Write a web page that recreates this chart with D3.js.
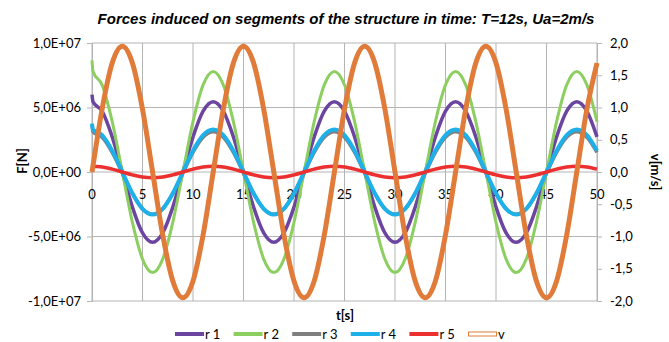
<!DOCTYPE html>
<html>
<head>
<meta charset="utf-8">
<script src="https://cdn.jsdelivr.net/npm/d3@7"></script>
<style>
  body { margin: 0; background: #fff; }
  text { font-family: Lato, "Liberation Sans", sans-serif; fill: #000; }
</style>
</head>
<body>
<svg id="svg" width="669" height="342"></svg>
<script>
// time samples [s]
var times = [0, 0.1,
  1, 2, 3, 4, 5, 6, 7, 8, 9, 10, 11, 12,
  13, 14, 15, 16, 17, 18, 19, 20, 21, 22, 23, 24,
  25, 26, 27, 28, 29, 30, 31, 32, 33, 34, 35, 36,
  37, 38, 39, 40, 41, 42, 43, 44, 45, 46, 47, 48,
  49, 50];

// forces in MN (x1e6 N)
var r1 = [6.00, 5.44,
  4.72, 2.72, 0.00, -2.72, -4.72, -5.45, -4.72, -2.72, 0.00, 2.72, 4.72, 5.45,
  4.72, 2.72, 0.00, -2.72, -4.72, -5.45, -4.72, -2.72, 0.00, 2.72, 4.72, 5.45,
  4.72, 2.72, 0.00, -2.72, -4.72, -5.45, -4.72, -2.72, 0.00, 2.72, 4.72, 5.45,
  4.72, 2.72, 0.00, -2.72, -4.72, -5.45, -4.72, -2.72, 0.00, 2.72, 4.72, 5.45,
  4.72, 2.72];
var r2 = [8.65, 7.79,
  6.75, 3.90, 0.00, -3.90, -6.75, -7.80, -6.75, -3.90, 0.00, 3.90, 6.75, 7.80,
  6.75, 3.90, 0.00, -3.90, -6.75, -7.80, -6.75, -3.90, 0.00, 3.90, 6.75, 7.80,
  6.75, 3.90, 0.00, -3.90, -6.75, -7.80, -6.75, -3.90, 0.00, 3.90, 6.75, 7.80,
  6.75, 3.90, 0.00, -3.90, -6.75, -7.80, -6.75, -3.90, 0.00, 3.90, 6.75, 7.80,
  6.75, 3.90];
var r3 = [3.62, 3.11,
  2.69, 1.52, -0.08, -1.68, -2.85, -3.28, -2.85, -1.68, -0.08, 1.52, 2.69, 3.12,
  2.69, 1.52, -0.08, -1.68, -2.85, -3.28, -2.85, -1.68, -0.08, 1.52, 2.69, 3.12,
  2.69, 1.52, -0.08, -1.68, -2.85, -3.28, -2.85, -1.68, -0.08, 1.52, 2.69, 3.12,
  2.69, 1.52, -0.08, -1.68, -2.85, -3.28, -2.85, -1.68, -0.08, 1.52, 2.69, 3.12,
  2.69, 1.52];
var r4 = [3.75, 3.29,
  2.86, 1.65, 0.00, -1.65, -2.86, -3.30, -2.86, -1.65, 0.00, 1.65, 2.86, 3.30,
  2.86, 1.65, 0.00, -1.65, -2.86, -3.30, -2.86, -1.65, 0.00, 1.65, 2.86, 3.30,
  2.86, 1.65, 0.00, -1.65, -2.86, -3.30, -2.86, -1.65, 0.00, 1.65, 2.86, 3.30,
  2.86, 1.65, 0.00, -1.65, -2.86, -3.30, -2.86, -1.65, 0.00, 1.65, 2.86, 3.30,
  2.86, 1.65];
var r5 = [0.46, 0.45,
  0.39, 0.22, 0.00, -0.22, -0.39, -0.45, -0.39, -0.22, 0.00, 0.22, 0.39, 0.45,
  0.39, 0.22, 0.00, -0.22, -0.39, -0.45, -0.39, -0.22, 0.00, 0.22, 0.39, 0.45,
  0.39, 0.22, 0.00, -0.22, -0.39, -0.45, -0.39, -0.22, 0.00, 0.22, 0.39, 0.45,
  0.39, 0.22, 0.00, -0.22, -0.39, -0.45, -0.39, -0.22, 0.00, 0.22, 0.39, 0.45,
  0.39, 0.22];
// velocity [m/s]
var v = [0.00, 0.10,
  0.975, 1.69, 1.95, 1.69, 0.975, 0.00, -0.975, -1.69, -1.95, -1.69, -0.975, 0.00,
  0.975, 1.69, 1.95, 1.69, 0.975, 0.00, -0.975, -1.69, -1.95, -1.69, -0.975, 0.00,
  0.975, 1.69, 1.95, 1.69, 0.975, 0.00, -0.975, -1.69, -1.95, -1.69, -0.975, 0.00,
  0.975, 1.69, 1.95, 1.69, 0.975, 0.00, -0.975, -1.69, -1.95, -1.69, -0.975, 0.00,
  0.975, 1.69];

var xTicks = [0, 5, 10, 15, 20, 25, 30, 35, 40, 45, 50];
var leftTicks = [-1e7, -5e6, 0, 5e6, 1e7];
var rightTicks = [-2, -1.5, -1, -0.5, 0, 0.5, 1, 1.5, 2];

var MN = 1e6;
var series = [
  {name: "r 1", values: r1, color: "#6b45a0", width: 3.5},
  {name: "r 2", values: r2, color: "#8ccf60", width: 3},
  {name: "r 3", values: r3, color: "#7f7f7f", width: 3.5},
  {name: "r 4", values: r4, color: "#1eb0e8", width: 4},
  {name: "r 5", values: r5, color: "#ec2f2f", width: 3.5}
];

var svg = d3.select("#svg");
var x = d3.scaleLinear().domain([0, 50]).range([92, 597]);
var yL = d3.scaleLinear().domain([-1e7, 1e7]).range([301, 43]);
var yR = d3.scaleLinear().domain([-2, 2]).range([301, 43]);
var gridColor = "#b4b4b4";

function sci(d) {
  if (d === 0) return "0,0E+00";
  var e = Math.floor(Math.log10(Math.abs(d)));
  var m = d / Math.pow(10, e);
  return m.toFixed(1).replace(".", ",") + "E" + (e < 0 ? "-" : "+") + String(Math.abs(e)).padStart(2, "0");
}

// grid
svg.append("g").selectAll("line").data(leftTicks).enter().append("line")
  .attr("x1", x(0)).attr("x2", x(50))
  .attr("y1", function (d) { return yL(d); }).attr("y2", function (d) { return yL(d); })
  .attr("stroke", gridColor).attr("stroke-width", 1);
svg.append("g").selectAll("line").data(xTicks).enter().append("line")
  .attr("x1", function (d) { return x(d); }).attr("x2", function (d) { return x(d); })
  .attr("y1", yL(1e7)).attr("y2", yL(-1e7))
  .attr("stroke", gridColor).attr("stroke-width", 1);

// axes
var leftAxis = svg.append("g").attr("transform", "translate(" + x(0) + ",0)")
  .call(d3.axisLeft(yL).tickValues(leftTicks).tickFormat(sci).tickSize(5).tickPadding(6));
var rightAxis = svg.append("g").attr("transform", "translate(" + x(50) + ",0)")
  .call(d3.axisRight(yR).tickValues(rightTicks)
    .tickFormat(function (d) { return d.toFixed(1).replace(".", ","); }).tickSize(5).tickPadding(8));
[leftAxis, rightAxis].forEach(function (g) {
  g.select(".domain").attr("stroke", gridColor);
  g.selectAll(".tick line").attr("stroke", gridColor);
  g.selectAll(".tick text").style("font-family", "Lato, sans-serif").style("font-size", "13px").attr("fill", "#000");
});

// x tick labels on zero line
svg.append("g").selectAll("text").data(xTicks).enter().append("text")
  .attr("x", function (d) { return x(d); })
  .attr("y", 199)
  .attr("text-anchor", "middle")
  .style("font-size", "13px")
  .text(function (d) { return d; });

// lines
var lineF = function (vals) {
  return d3.line()
    .x(function (d, i) { return x(times[i]); })
    .y(function (d) { return yL(d * MN); })
    .curve(d3.curveMonotoneX)(vals);
};
svg.append("g").selectAll("path").data(series).enter().append("path")
  .attr("d", function (s) { return lineF(s.values); })
  .attr("fill", "none")
  .attr("stroke", function (s) { return s.color; })
  .attr("stroke-width", function (s) { return s.width; })
  .attr("stroke-linejoin", "round");

var lineV = d3.line()
  .x(function (d, i) { return x(times[i]); })
  .y(function (d) { return yR(d); })
  .curve(d3.curveMonotoneX);
svg.append("path").attr("d", lineV(v))
  .attr("fill", "none").attr("stroke", "#e07b3a").attr("stroke-width", 5);

// titles
svg.append("text").attr("x", 346).attr("y", 24).attr("text-anchor", "middle")
  .style("font-family", "'Liberation Sans', Arial, sans-serif")
  .style("font-weight", "bold").style("font-style", "italic").style("font-size", "15px")
  .text("Forces induced on segments of the structure in time: T=12s, Ua=2m/s");
svg.append("text").attr("x", 345).attr("y", 320).attr("text-anchor", "middle")
  .style("font-weight", "bold").style("font-size", "13px").text("t[s]");
svg.append("text").attr("transform", "translate(27,161) rotate(-90)").attr("text-anchor", "middle")
  .style("font-weight", "bold").style("font-size", "13px").text("F[N]");
svg.append("text").attr("transform", "translate(651,172) rotate(90)").attr("text-anchor", "middle")
  .style("font-weight", "bold").style("font-size", "13px").text("v[m/s]");

// legend
var legendItems = series.map(function (s) { return {name: s.name, color: s.color}; })
  .concat([{name: "v", color: "#e07b3a", hollow: true}]);
var lg = svg.append("g").selectAll("g").data(legendItems).enter().append("g")
  .attr("transform", function (d, i) { return "translate(" + (175 + i * 58.6) + ",334)"; });
lg.filter(function (d) { return !d.hollow; }).append("line")
  .attr("x1", 0).attr("x2", 29).attr("y1", 0).attr("y2", 0)
  .attr("stroke", function (d) { return d.color; }).attr("stroke-width", 4);
lg.filter(function (d) { return d.hollow; }).append("rect")
  .attr("x", 0.5).attr("y", -2).attr("width", 28).attr("height", 4)
  .attr("fill", "#fff").attr("stroke", function (d) { return d.color; }).attr("stroke-width", 1);
lg.append("text").attr("x", 30).attr("y", 5).style("font-size", "13px")
  .text(function (d) { return d.name; });
</script>
</body>
</html>
